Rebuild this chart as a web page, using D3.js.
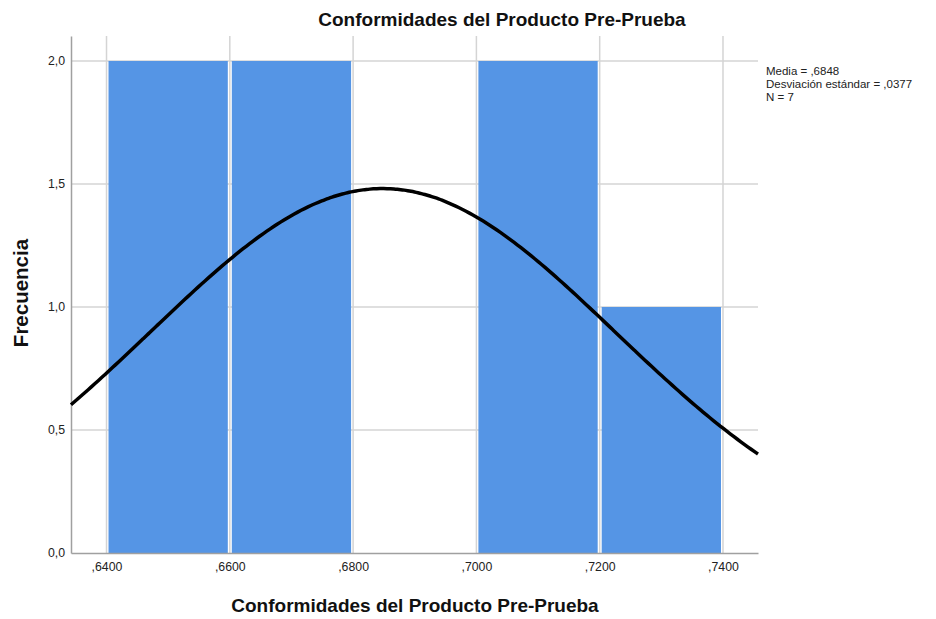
<!DOCTYPE html>
<html><head><meta charset="utf-8">
<script src="https://cdn.jsdelivr.net/npm/d3@7"></script>
<style>body{margin:0;background:#fff;}svg{display:block;font-family:"Liberation Sans",Arial,sans-serif;}</style>
</head><body>
<svg id="c" width="936" height="619"></svg>
<script>
const binStarts = [0.64, 0.66, 0.68, 0.70, 0.72];
const binEnds   = [0.66, 0.68, 0.70, 0.72, 0.74];
const counts    = [2, 2, 0, 2, 1];
const xTicks = [0.64, 0.66, 0.68, 0.70, 0.72, 0.74];
const yTicks = [0, 0.5, 1.0, 1.5, 2.0];
const mean = 0.6848, sd = 0.0377, n = 7, binWidth = 0.02;
const statLines = ["Media = ,6848", "Desviación estándar = ,0377", "N = 7"];

const svg = d3.select("#c");
const L = 71, R = 758, T = 36, B = 553;
const x = d3.scaleLinear().domain([0.63424, 0.74568]).range([L, R]);
const y = d3.scaleLinear().domain([0, 2.1016]).range([B, T]);

const fmtX = v => "," + d3.format(".4f")(v).split(".")[1];
const fmtY = v => d3.format(".1f")(v).replace(".", ",");

// gridlines
const g = svg.append("g");
g.selectAll(".hg").data(yTicks.filter(d => d > 0)).join("line")
  .attr("x1", L).attr("x2", R).attr("y1", d => y(d)).attr("y2", d => y(d))
  .attr("stroke", "#d4d4d4").attr("stroke-width", 1.5);
g.selectAll(".vg").data(xTicks).join("line")
  .attr("x1", d => x(d)).attr("x2", d => x(d)).attr("y1", T).attr("y2", B)
  .attr("stroke", "#d4d4d4").attr("stroke-width", 1.5);

// bars
const bins = binStarts.map((s, i) => ({s, e: binEnds[i], c: counts[i]})).filter(d => d.c > 0);
svg.append("g").selectAll("rect").data(bins).join("rect")
  .attr("x", d => x(d.s) + 2).attr("width", d => x(d.e) - x(d.s) - 4)
  .attr("y", d => y(d.c)).attr("height", d => y(0) - y(d.c))
  .attr("fill", "#5595e5");

// axes
const ax = svg.append("g").attr("transform", `translate(0,${B})`)
  .call(d3.axisBottom(x).tickValues(xTicks).tickFormat(fmtX).tickSize(0).tickPadding(9));
ax.select(".domain").attr("stroke", "#a0a0a0").attr("stroke-width", 1.5);
ax.selectAll("text").attr("font-size", 12.3).attr("fill", "#222").attr("font-family", "Liberation Sans, Arial, sans-serif");
const ay = svg.append("g").attr("transform", `translate(${L},0)`)
  .call(d3.axisLeft(y).tickValues(yTicks).tickFormat(fmtY).tickSize(0).tickPadding(6));
ay.select(".domain").attr("stroke", "#a0a0a0").attr("stroke-width", 1.5);
ay.selectAll("text").attr("font-size", 12.3).attr("fill", "#222").attr("font-family", "Liberation Sans, Arial, sans-serif");

// normal curve
const curveX = d3.range(0, 201).map(i => x.domain()[0] + (x.domain()[1] - x.domain()[0]) * i / 200);
const pdf = v => n * binWidth / (sd * Math.sqrt(2 * Math.PI)) * Math.exp(-0.5 * ((v - mean) / sd) ** 2);
svg.append("path").datum(curveX)
  .attr("d", d3.line().x(d => x(d)).y(d => y(pdf(d))).curve(d3.curveBasis))
  .attr("fill", "none").attr("stroke", "#000").attr("stroke-width", 3.5);

// titles
svg.append("text").attr("x", 502).attr("y", 26).attr("text-anchor", "middle")
  .attr("font-size", 19).attr("font-weight", "bold").attr("fill", "#111")
  .text("Conformidades del Producto Pre-Prueba");
svg.append("text").attr("x", 415).attr("y", 612).attr("text-anchor", "middle")
  .attr("font-size", 19).attr("font-weight", "bold").attr("fill", "#111")
  .text("Conformidades del Producto Pre-Prueba");
svg.append("text").attr("transform", "translate(28,293) rotate(-90)").attr("text-anchor", "middle")
  .attr("font-size", 20.5).attr("font-weight", "bold").attr("fill", "#111")
  .text("Frecuencia");

// stats
svg.append("g").selectAll("text").data(statLines).join("text")
  .attr("x", 766).attr("y", (d, i) => 75 + i * 13.2)
  .attr("font-size", 11.5).attr("fill", "#222").text(d => d);
</script>
</body></html>
